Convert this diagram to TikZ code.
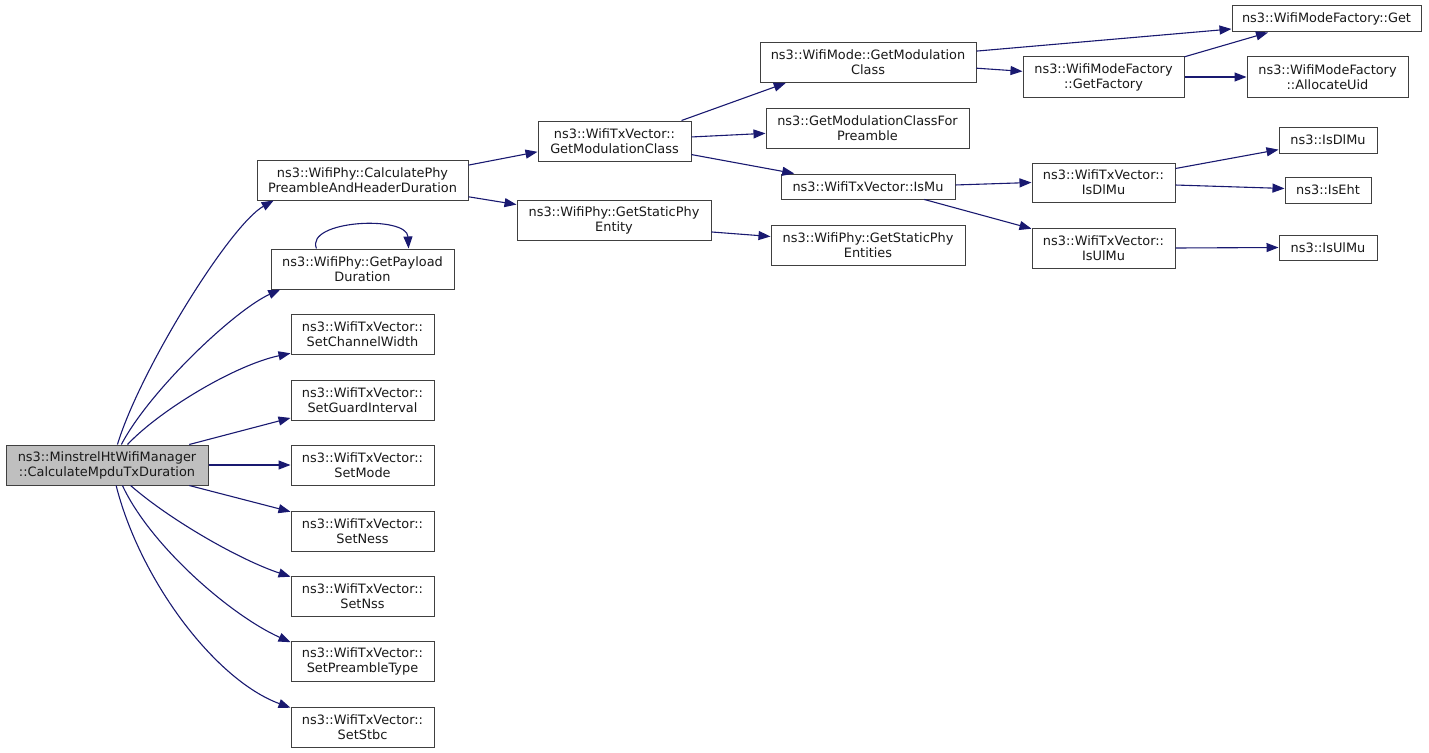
\documentclass[tikz,border=0pt]{standalone}
\usepackage{fontspec}
\setmainfont{DejaVu Sans}
\usetikzlibrary{arrows.meta}
\definecolor{edgec}{HTML}{191970}
\definecolor{boxc}{HTML}{404040}
\definecolor{mainfill}{HTML}{BFBFBF}
\tikzset{
  fn/.style={draw=boxc, line width=1pt, fill=white, inner sep=0pt, align=center,
    font=\fontsize{12.9}{15}\selectfont, text=black!90},
  call/.style={draw=edgec, line width=1.1pt, -{Triangle[length=12pt,width=9pt]}},
}
\begin{document}
\begin{tikzpicture}[x=1pt,y=-1pt]
\useasboundingbox (0,0) rectangle (1429,752);
% nodes
\node[fn, fill=mainfill, minimum width=202, minimum height=40] (main) at (107,465) {ns3::MinstrelHtWifiManager\\::CalculateMpduTxDuration};
\node[fn, minimum width=211, minimum height=40] (calc) at (362.5,180) {ns3::WifiPhy::CalculatePhy\\PreambleAndHeaderDuration};
\node[fn, minimum width=183, minimum height=40] (payload) at (362.5,269) {ns3::WifiPhy::GetPayload\\Duration};
\node[fn, minimum width=143, minimum height=40] (scw) at (362.5,334) {ns3::WifiTxVector::\\SetChannelWidth};
\node[fn, minimum width=143, minimum height=40] (sgi) at (362.5,400) {ns3::WifiTxVector::\\SetGuardInterval};
\node[fn, minimum width=143, minimum height=40] (smode) at (362.5,465) {ns3::WifiTxVector::\\SetMode};
\node[fn, minimum width=143, minimum height=40] (sness) at (362.5,531) {ns3::WifiTxVector::\\SetNess};
\node[fn, minimum width=143, minimum height=40] (snss) at (362.5,596) {ns3::WifiTxVector::\\SetNss};
\node[fn, minimum width=143, minimum height=40] (spt) at (362.5,661.5) {ns3::WifiTxVector::\\SetPreambleType};
\node[fn, minimum width=143, minimum height=40] (sstbc) at (362.5,727) {ns3::WifiTxVector::\\SetStbc};
\node[fn, minimum width=153, minimum height=40] (gmc) at (614.5,141) {ns3::WifiTxVector::\\GetModulationClass};
\node[fn, minimum width=194, minimum height=40] (gspe) at (614,220) {ns3::WifiPhy::GetStaticPhy\\Entity};
\node[fn, minimum width=216, minimum height=40] (wmgmc) at (868,62.5) {ns3::WifiMode::GetModulation\\Class};
\node[fn, minimum width=203, minimum height=40] (gmcfp) at (867.5,128) {ns3::GetModulationClassFor\\Preamble};
\node[fn, minimum width=174, minimum height=25] (ismu) at (868,186.5) {ns3::WifiTxVector::IsMu};
\node[fn, minimum width=194, minimum height=40] (gspes) at (868,245) {ns3::WifiPhy::GetStaticPhy\\Entities};
\node[fn, minimum width=189, minimum height=26] (get) at (1326.5,19) {ns3::WifiModeFactory::Get};
\node[fn, minimum width=161, minimum height=40] (gf) at (1103.5,77) {ns3::WifiModeFactory\\::GetFactory};
\node[fn, minimum width=161, minimum height=40] (au) at (1327.5,77) {ns3::WifiModeFactory\\::AllocateUid};
\node[fn, minimum width=98, minimum height=26] (isdlmu) at (1328,140) {ns3::IsDlMu};
\node[fn, minimum width=143, minimum height=39] (txisdlmu) at (1103.5,182.5) {ns3::WifiTxVector::\\IsDlMu};
\node[fn, minimum width=86, minimum height=26] (iseht) at (1328,190) {ns3::IsEht};
\node[fn, minimum width=143, minimum height=40] (txisulmu) at (1103.5,248) {ns3::WifiTxVector::\\IsUlMu};
\node[fn, minimum width=98, minimum height=25] (isulmu) at (1328,247.5) {ns3::IsUlMu};
% edges from main
\draw[call] (main.63) .. controls (140,370) and (230,225) .. (calc.193);
\draw[call] (main.55) .. controls (150,390) and (235,310) .. (payload.194);
\draw[call] (main.45) .. controls (160,410) and (235,365) .. (scw.195);
\draw[call] (main.14) -- (sgi.194);
\draw[call] (main.east) -- (smode.west);
\draw[call] (main.-14) -- (sness.165);
\draw[call] (main.-41) .. controls (170,520) and (240,560) .. (snss.165);
\draw[call] (main.-53) .. controls (150,545) and (230,615) .. (spt.165);
\draw[call] (main.-66) .. controls (140,580) and (215,680) .. (sstbc.165);
% self loop
\draw[call] (payload.156) .. controls (305,220) and (407,215) .. (payload.24);
% others
\draw[call] (calc.8.6) -- (gmc.188.9);
\draw[call] (calc.-9.2) -- (gspe.171.2);
\draw[call] (gmc.17) -- (wmgmc.194);
\draw[call] (gmc.3) -- (gmcfp.183.4);
\draw[call] (gmc.-10.4) -- (ismu.170.3);
\draw[call] (gspe.-7) -- (gspes.175.3);
\draw[call] (wmgmc.6.6) -- (get.186);
\draw[call] (wmgmc.-3.4) -- (gf.176.4);
\draw[call] (gf.14.5) -- (get.193);
\draw[call] (gf.east) -- (au.west);
\draw[call] (ismu.1) -- (txisdlmu.180);
\draw[call] (ismu.-13.5) -- (txisulmu.165.9);
\draw[call] (txisdlmu.11.5) -- (isdlmu.191.5);
\draw[call] (txisdlmu.-2) -- (iseht.178.7);
\draw[call] (txisulmu.east) -- (isulmu.west);
\end{tikzpicture}
\end{document}
